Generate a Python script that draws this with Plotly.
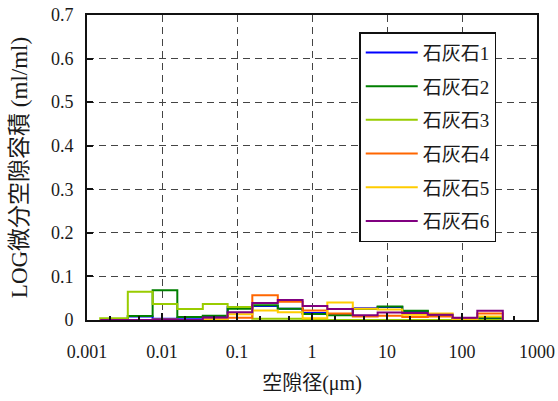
import plotly.graph_objects as go

# Pore-diameter bin edges (µm), roughly 1/3-decade bins
bin_edges = [0.0015, 0.0035, 0.0075, 0.016, 0.035, 0.075, 0.16, 0.35, 0.75,
             1.6, 3.5, 7.5, 16, 35, 75, 160, 350]

# Log-differential pore volume (ml/ml) for each bin
limestone1 = [0, 0.008, 0.003, 0.005, 0.008, 0.030, 0.032, 0.026, 0.016,
              0.012, 0.027, 0.030, 0.020, 0.010, 0.003, 0.004]
limestone2 = [0, 0.009, 0.068, 0.007, 0.010, 0.026, 0.034, 0.026, 0.014,
              0.011, 0.025, 0.031, 0.021, 0.012, 0.004, 0.005]
limestone3 = [0.004, 0.065, 0.037, 0.025, 0.037, 0.030, 0.003, 0.003, 0,
              0, 0, 0, 0, 0, 0, 0]
limestone4 = [0, 0, 0.001, 0, 0.002, 0.005, 0.057, 0.042, 0.022,
              0.015, 0.008, 0.010, 0.007, 0.008, 0.002, 0.015]
limestone5 = [0, 0, 0, 0, 0, 0.013, 0.022, 0.018, 0.004,
              0.040, 0.026, 0.024, 0.012, 0.015, 0, 0.008]
limestone6 = [0, 0, 0, 0, 0.006, 0.018, 0.039, 0.046, 0.032,
              0.025, 0.011, 0.017, 0.016, 0.012, 0.005, 0.021]

series_names = ["石灰石1", "石灰石2", "石灰石3", "石灰石4", "石灰石5", "石灰石6"]
series_values = [limestone1, limestone2, limestone3, limestone4, limestone5, limestone6]
series_colors = ["#0000ff", "#007f00", "#99cc00", "#ff6600", "#ffcc00", "#800080"]

x_tick_vals = [0.001, 0.01, 0.1, 1, 10, 100, 1000]
x_tick_text = ["0.001", "0.01", "0.1", "1", "10", "100", "1000"]

FONT = "Liberation Serif, Times New Roman, Noto Sans CJK JP, serif"

fig = go.Figure()
for name, vals, color in zip(series_names, series_values, series_colors):
    # closed step outline: rise at first edge, drop at last edge
    xs = [bin_edges[0]] + bin_edges + [bin_edges[-1]]
    ys = [0] + vals + [vals[-1], 0]
    fig.add_trace(go.Scatter(
        x=xs, y=ys, mode="lines", name=name, legendgroup=name,
        line=dict(color=color, width=2, shape="hv"),
    ))

grid_style = dict(showgrid=True, gridcolor="#444444", gridwidth=1, griddash="7px,5px")

fig.update_layout(
    width=558, height=401,
    margin=dict(l=87, r=21, t=15, b=81),
    paper_bgcolor="white", plot_bgcolor="white",
    font=dict(family=FONT, size=18, color="#1a1a1a"),
    showlegend=True,
    legend=dict(
        x=0.605, y=0.944, xanchor="left", yanchor="top",
        bgcolor="white", bordercolor="#111111", borderwidth=1.5,
        font=dict(family=FONT, size=19, color="#1a1a1a"),
        tracegroupgap=6, itemwidth=52,
    ),
    xaxis=dict(
        type="log", range=[-3, 3], automargin=False,
        tickvals=x_tick_vals, ticktext=x_tick_text,
        ticks="inside", ticklen=7, tickwidth=1.5, tickcolor="#111111",
        minor=dict(ticks="inside", ticklen=4, tickwidth=1.5, tickcolor="#111111",
                   showgrid=False),
        showline=True, linecolor="#111111", linewidth=2, mirror=True,
        zeroline=False, ticklabelstandoff=14,
        title=dict(text="空隙径(μm)", font=dict(family=FONT, size=20), standoff=15),
        **grid_style,
    ),
    yaxis=dict(
        range=[0, 0.7], dtick=0.1, tick0=0, automargin=False,
        ticks="inside", ticklen=6, tickwidth=1.5, tickcolor="#111111",
        showline=True, linecolor="#111111", linewidth=2, mirror=True,
        zeroline=False, ticklabelstandoff=8,
        title=dict(text="LOG微分空隙容積 (ml/ml)", font=dict(family=FONT, size=23), standoff=17),
        **grid_style,
    ),
)

fig.write_html("out.html")
